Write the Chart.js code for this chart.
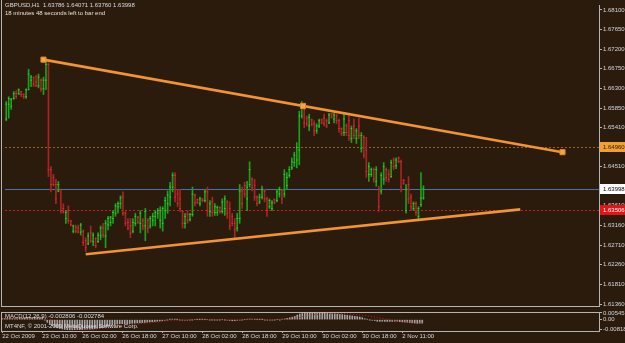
<!DOCTYPE html>
<html>
<head>
<meta charset="utf-8">
<script src="https://cdn.jsdelivr.net/npm/chart.js@4.4.0/dist/chart.umd.min.js"></script>
<style>
html, body { margin: 0; padding: 0; background: #2b1b0c; }
#wrap { position: relative; width: 625px; height: 343px; overflow: hidden; }
#priceChart { position: absolute; left: 0; top: 0; }
#macdChart { position: absolute; left: 0; top: 311px; }
.txt { position: absolute; font: 6px 'Liberation Sans', Arial, sans-serif; line-height: 7px; color: #d8dfe8; white-space: pre; }
</style>
<script>
// GBPUSD H1 bars (bar 0 = 22 Oct, last bar = 2 Nov)
const opens = [
  1.6560,1.6594,1.6589,1.6607,1.6618,1.6618,1.6623,1.6616,1.6611,1.6627,
  1.6649,1.6656,1.6645,1.6636,1.6649,1.6629,1.6649,1.6685,1.6444,1.6426,
  1.6410,1.6395,1.6399,1.6355,1.6332,1.6350,1.6326,1.6303,1.6312,1.6310,
  1.6301,1.6303,1.6281,1.6274,1.6299,1.6279,1.6286,1.6279,1.6292,1.6310,
  1.6292,1.6317,1.6323,1.6332,1.6344,1.6359,1.6366,1.6381,1.6344,1.6323,
  1.6315,1.6303,1.6321,1.6335,1.6321,1.6328,1.6315,1.6328,1.6315,1.6328,
  1.6337,1.6344,1.6328,1.6321,1.6350,1.6366,1.6381,1.6404,1.6431,1.6388,
  1.6377,1.6348,1.6321,1.6341,1.6330,1.6341,1.6386,1.6375,1.6366,1.6377,
  1.6373,1.6393,1.6348,1.6370,1.6346,1.6346,1.6357,1.6348,1.6355,1.6370,
  1.6355,1.6337,1.6321,1.6310,1.6332,1.6395,1.6408,1.6377,1.6410,1.6422,
  1.6408,1.6381,1.6370,1.6381,1.6395,1.6377,1.6359,1.6355,1.6375,1.6373,
  1.6388,1.6397,1.6388,1.6408,1.6431,1.6448,1.6460,1.6466,1.6489,1.6567,
  1.6582,1.6562,1.6544,1.6558,1.6549,1.6533,1.6544,1.6558,1.6562,1.6556,
  1.6551,1.6571,1.6560,1.6567,1.6556,1.6538,1.6529,1.6544,1.6556,1.6515,
  1.6544,1.6515,1.6544,1.6493,1.6518,1.6489,1.6433,1.6433,1.6444,1.6417,
  1.6399,1.6395,1.6422,1.6444,1.6433,1.6428,1.6466,1.6453,1.6471,1.6462,
  1.6419,1.6350,1.6410,1.6381,1.6355,1.6366,1.6337,1.6364,1.63786
];
const highs = [
  1.6600,1.6611,1.6607,1.6623,1.6625,1.6629,1.6623,1.6618,1.6629,1.6674,
  1.6660,1.6656,1.6660,1.6663,1.6652,1.6656,1.6694,1.6689,1.6451,1.6433,
  1.6422,1.6417,1.6399,1.6366,1.6350,1.6361,1.6328,1.6317,1.6317,1.6317,
  1.6321,1.6306,1.6288,1.6299,1.6315,1.6299,1.6288,1.6299,1.6315,1.6321,
  1.6328,1.6337,1.6337,1.6350,1.6366,1.6370,1.6384,1.6393,1.6348,1.6332,
  1.6332,1.6332,1.6344,1.6337,1.6350,1.6332,1.6355,1.6332,1.6337,1.6344,
  1.6350,1.6355,1.6359,1.6359,1.6381,1.6395,1.6415,1.6437,1.6437,1.6399,
  1.6399,1.6350,1.6344,1.6350,1.6344,1.6404,1.6388,1.6377,1.6381,1.6377,
  1.6399,1.6404,1.6373,1.6381,1.6366,1.6361,1.6359,1.6377,1.6384,1.6373,
  1.6370,1.6344,1.6332,1.6344,1.6410,1.6404,1.6415,1.6417,1.6462,1.6426,
  1.6422,1.6384,1.6388,1.6406,1.6399,1.6381,1.6377,1.6373,1.6377,1.6399,
  1.6404,1.6399,1.6444,1.6437,1.6451,1.6471,1.6484,1.6506,1.6578,1.6600,
  1.6585,1.6567,1.6571,1.6560,1.6556,1.6549,1.6560,1.6560,1.6571,1.6560,
  1.6573,1.6573,1.6573,1.6571,1.6560,1.6540,1.6571,1.6549,1.6567,1.6544,
  1.6560,1.6538,1.6562,1.6529,1.6522,1.6518,1.6460,1.6448,1.6448,1.6451,
  1.6406,1.6437,1.6460,1.6448,1.6444,1.6466,1.6471,1.6471,1.6473,1.6466,
  1.6422,1.6410,1.6428,1.6388,1.6370,1.6370,1.6359,1.6437,1.64071
];
const lows = [
  1.6556,1.6562,1.6582,1.6605,1.6607,1.6616,1.6611,1.6607,1.6607,1.6627,
  1.6634,1.6634,1.6634,1.6631,1.6623,1.6616,1.6627,1.6428,1.6393,1.6406,
  1.6366,1.6393,1.6344,1.6344,1.6321,1.6321,1.6315,1.6299,1.6299,1.6299,
  1.6294,1.6270,1.6256,1.6272,1.6277,1.6270,1.6265,1.6277,1.6283,1.6288,
  1.6265,1.6306,1.6315,1.6321,1.6337,1.6344,1.6355,1.6339,1.6315,1.6306,
  1.6288,1.6299,1.6315,1.6321,1.6299,1.6306,1.6281,1.6299,1.6310,1.6315,
  1.6315,1.6332,1.6310,1.6303,1.6332,1.6344,1.6361,1.6393,1.6370,1.6359,
  1.6348,1.6310,1.6310,1.6321,1.6326,1.6337,1.6361,1.6366,1.6361,1.6370,
  1.6370,1.6337,1.6337,1.6337,1.6339,1.6339,1.6344,1.6344,1.6339,1.6332,
  1.6306,1.6315,1.6288,1.6303,1.6321,1.6355,1.6381,1.6350,1.6404,1.6395,
  1.6373,1.6361,1.6366,1.6377,1.6370,1.6337,1.6355,1.6350,1.6366,1.6370,
  1.6381,1.6366,1.6381,1.6399,1.6426,1.6444,1.6451,1.6448,1.6455,1.6562,
  1.6540,1.6544,1.6533,1.6544,1.6522,1.6527,1.6540,1.6549,1.6544,1.6540,
  1.6549,1.6562,1.6551,1.6549,1.6529,1.6522,1.6522,1.6522,1.6511,1.6506,
  1.6515,1.6504,1.6515,1.6484,1.6471,1.6426,1.6417,1.6428,1.6415,1.6406,
  1.6348,1.6388,1.6410,1.6417,1.6415,1.6426,1.6444,1.6446,1.6460,1.6393,
  1.6410,1.6344,1.6366,1.6350,1.6350,1.6339,1.6328,1.6359,1.63760
];
const closes = [
  1.6594,1.6607,1.6605,1.6618,1.6611,1.6627,1.6616,1.6611,1.6627,1.6663,
  1.6656,1.6640,1.6636,1.6656,1.6629,1.6649,1.6685,1.6444,1.6410,1.6410,
  1.6377,1.6410,1.6350,1.6348,1.6346,1.6328,1.6317,1.6315,1.6303,1.6301,
  1.6317,1.6277,1.6265,1.6292,1.6281,1.6294,1.6270,1.6294,1.6310,1.6294,
  1.6321,1.6332,1.6335,1.6346,1.6361,1.6366,1.6379,1.6344,1.6321,1.6310,
  1.6299,1.6323,1.6337,1.6323,1.6344,1.6315,1.6348,1.6310,1.6332,1.6337,
  1.6346,1.6350,1.6350,1.6355,1.6373,1.6386,1.6404,1.6431,1.6381,1.6366,
  1.6355,1.6321,1.6337,1.6328,1.6341,1.6388,1.6368,1.6368,1.6377,1.6373,
  1.6393,1.6350,1.6366,1.6346,1.6359,1.6357,1.6348,1.6370,1.6377,1.6344,
  1.6315,1.6321,1.6306,1.6332,1.6395,1.6366,1.6388,1.6404,1.6444,1.6402,
  1.6381,1.6366,1.6381,1.6399,1.6377,1.6350,1.6373,1.6368,1.6368,1.6393,
  1.6399,1.6377,1.6433,1.6426,1.6444,1.6462,1.6477,1.6495,1.6567,1.6594,
  1.6551,1.6549,1.6564,1.6547,1.6533,1.6544,1.6556,1.6551,1.6549,1.6544,
  1.6569,1.6564,1.6569,1.6556,1.6538,1.6527,1.6560,1.6529,1.6522,1.6538,
  1.6522,1.6533,1.6522,1.6522,1.6477,1.6440,1.6451,1.6444,1.6422,1.6444,
  1.6359,1.6431,1.6451,1.6426,1.6422,1.6460,1.6451,1.6466,1.6462,1.6404,
  1.6413,1.6399,1.6377,1.6359,1.6366,1.6346,1.6355,1.6379,1.63998
];

// MACD(12,26,9) main line per bar and a few points of its signal line
const macdMain = [
  0.0008,0.0009,0.0009,0.0010,0.0010,0.0011,0.0011,0.0011,0.0012,0.0015,
  0.0017,0.0017,0.0016,0.0017,0.0016,0.0016,0.0019,-0.0002,-0.0022,-0.0037,
  -0.0050,-0.0058,-0.0066,-0.0072,-0.0076,-0.0079,-0.0081,-0.0082,-0.0082,-0.0081,
  -0.0080,-0.0081,-0.0081,-0.0080,-0.0078,-0.0077,-0.0076,-0.0074,-0.0071,-0.0068,
  -0.0064,-0.0060,-0.0056,-0.0051,-0.0046,-0.0041,-0.0036,-0.0034,-0.0033,-0.0033,
  -0.0033,-0.0032,-0.0030,-0.0029,-0.0027,-0.0026,-0.0024,-0.0023,-0.0021,-0.0019,
  -0.0017,-0.0015,-0.0013,-0.0011,-0.0008,-0.0005,-0.0002,0.0002,0.0003,0.0002,
  0.0001,-0.0002,-0.0003,-0.0004,-0.0004,-0.0002,-0.0001,0.0000,0.0001,0.0001,
  0.0002,0.0001,0.0000,-0.0001,-0.0001,-0.0002,-0.0002,-0.0001,0.0000,-0.0001,
  -0.0004,-0.0006,-0.0009,-0.0009,-0.0005,-0.0004,-0.0002,0.0000,0.0004,0.0005,
  0.0004,0.0002,0.0001,0.0002,0.0001,-0.0002,-0.0003,-0.0003,-0.0003,-0.0002,
  0.0000,-0.0001,0.0003,0.0006,0.0010,0.0015,0.0020,0.0026,0.0037,0.0046,
  0.0050,0.0052,0.0054,0.0054,0.0054,0.0054,0.0054,0.0053,0.0052,0.0051,
  0.0051,0.0050,0.0049,0.0047,0.0045,0.0042,0.0041,0.0038,0.0035,0.0032,
  0.0030,0.0027,0.0025,0.0021,0.0016,0.0008,0.0003,-0.0001,-0.0005,-0.0007,
  -0.0013,-0.0014,-0.0013,-0.0014,-0.0015,-0.0014,-0.0014,-0.0013,-0.0013,-0.0016,
  -0.0018,-0.0020,-0.0021,-0.0024,-0.0026,-0.0028,-0.0030,-0.0029,-0.002806
];
const signalBars = [0, 16, 18, 22, 26, 30, 36, 44, 52, 60, 68, 76, 84, 92, 100, 108, 114, 118, 122, 128, 136, 144, 150, 156, 162, 168];
const signalValues = [0.0007, 0.0014, 0.0012, -0.0020, -0.0060, -0.0077, -0.0080, -0.0065, -0.0038, -0.0024, -0.0005, -0.0001, 0.0000, -0.0003, 0.0001, -0.0001, 0.0002, 0.0014, 0.0033, 0.0049, 0.0050, 0.0036, 0.0017, -0.0004, -0.0015, -0.002784];

// trend lines: [bar index, price] anchors; the first one is selected (3 handles)
const upperTrend = [[15, 1.6696], [224, 1.6484]];
const upperHandles = [[15, 1.6696], [119.5, 1.6590], [224, 1.6484]];
const lowerTrend = [[32, 1.6250], [207, 1.6353]];

// horizontal levels: orange line, bid line, red line
const levelPrices = [1.64960, 1.63998, 1.63506];

// axis labels
const priceTicks = [1.68100, 1.67650, 1.67200, 1.66750, 1.66300, 1.65850, 1.65410, 1.64960, 1.64510, 1.64060, 1.63610, 1.63160, 1.62710, 1.62260, 1.61810, 1.61360];
const timeTickBars = [0, 16, 32, 48, 64, 80, 96, 112, 128, 144, 160];
const timeLabels = ['22 Oct 2009', '23 Oct 10:00', '26 Oct 02:00', '26 Oct 18:00', '27 Oct 10:00', '28 Oct 02:00', '28 Oct 18:00', '29 Oct 10:00', '30 Oct 02:00', '30 Oct 18:00', '2 Nov 11:00'];
const macdTicks = [0.005459, 0, -0.008185];
</script>
</head>
<body>
<div id="wrap">
  <canvas id="priceChart" width="625" height="311"></canvas>
  <canvas id="macdChart" width="625" height="32"></canvas>
  <div class="txt" style="left:5px;top:2px">GBPUSD,H1  1.63786 1.64071 1.63760 1.63998</div>
  <div class="txt" style="left:5px;top:10px;color:#e6e4d2">18 minutes 48 seconds left to bar end</div>
  <div class="txt" style="left:5px;top:313px">MACD(12,26,9) -0.002806 -0.002784</div>
  <div class="txt" style="left:5px;top:323px">MT4NF, © 2001-2009 MetaQuotes Software Corp.</div>
</div>
<script>
document.addEventListener("DOMContentLoaded", function() {
    Chart.defaults.font.family = "'Liberation Sans', Arial, sans-serif";
    Chart.defaults.font.size = 6;
    Chart.defaults.color = '#d4d9e0';

    const UP = '#18a318', DOWN = '#a82424';
    const UP_TICK = '#46c446', DOWN_TICK = '#c83838';
    const FRAME = '#b4b4b4';
    const TREND = '#f29431';
    const X_MIN = -0.5, X_MAX = 238.7;
    const isUp = i => closes[i] >= opens[i];

    const levelStyle = [
        { line: '#9c5c22', dash: [2, 2], box: '#f0a032', text: '#2b1b0c' },
        { line: '#4a72aa', dash: [], box: '#ffffff', text: '#000000' },
        { line: '#c81e1e', dash: [2, 2], box: '#e41414', text: '#ffffff' }
    ];

    const fixedRightAxis = function(scale) {
        scale.width = 26;
        scale.paddingTop = 0;
        scale.paddingBottom = 0;
    };

    const priceDecor = {
        id: 'priceDecor',
        beforeDatasetsDraw(chart) {
            const { ctx, chartArea: a, scales: { y } } = chart;
            ctx.save();
            levelPrices.forEach((v, k) => {
                const py = Math.round(y.getPixelForValue(v)) + 0.5;
                ctx.strokeStyle = levelStyle[k].line;
                ctx.setLineDash(levelStyle[k].dash);
                ctx.lineWidth = 1;
                ctx.beginPath();
                ctx.moveTo(a.left, py);
                ctx.lineTo(a.right, py);
                ctx.stroke();
            });
            ctx.restore();
        },
        afterDraw(chart) {
            const { ctx, chartArea: a, scales: { y } } = chart;
            ctx.save();
            ctx.fillStyle = FRAME;
            ctx.fillRect(1, 0, 1, a.bottom);
            ctx.fillRect(1, Math.round(a.bottom), a.right - 1, 1);
            ctx.font = "6px 'Liberation Sans', Arial, sans-serif";
            ctx.textBaseline = 'middle';
            levelPrices.forEach((v, k) => {
                const py = Math.round(y.getPixelForValue(v));
                ctx.fillStyle = levelStyle[k].box;
                ctx.fillRect(a.right + 1, py - 5, 30, 10);
                ctx.fillStyle = levelStyle[k].text;
                ctx.fillText(v.toFixed(5), a.right + 4, py + 0.5);
            });
            ctx.restore();
        }
    };

    const macdFrame = {
        id: 'macdFrame',
        afterDraw(chart) {
            const { ctx, chartArea: a } = chart;
            ctx.save();
            ctx.fillStyle = FRAME;
            ctx.fillRect(1, a.top, 1, a.bottom - a.top);
            ctx.fillRect(1, Math.round(a.top), a.right - 1, 1);
            ctx.restore();
        }
    };

    const toPts = arr => arr.map(p => ({ x: p[0], y: p[1] }));

    new Chart(document.getElementById('priceChart'), {
        type: 'bar',
        data: {
            datasets: [{
                type: 'line',
                data: toPts(upperHandles),
                showLine: false,
                pointStyle: 'rect',
                pointRadius: 3.6,
                pointBackgroundColor: '#f6a640',
                pointBorderColor: '#e88a20',
                pointBorderWidth: 1
            }, {
                type: 'line',
                data: toPts(upperTrend),
                borderColor: TREND,
                borderWidth: 2.6,
                pointRadius: 0
            }, {
                type: 'line',
                data: toPts(lowerTrend),
                borderColor: TREND,
                borderWidth: 2.6,
                pointRadius: 0
            }, {
                type: 'line',
                data: closes.map((c, i) => ({ x: i, y: c })),
                showLine: false,
                pointStyle: 'line',
                pointRadius: 0.8,
                pointBorderWidth: 1,
                pointBorderColor: ctx => isUp(ctx.dataIndex) ? UP_TICK : DOWN_TICK
            }, {
                type: 'line',
                data: opens.map((o, i) => ({ x: i, y: o })),
                showLine: false,
                pointStyle: 'line',
                pointRadius: 0.8,
                pointBorderWidth: 1,
                pointBorderColor: ctx => isUp(ctx.dataIndex) ? UP_TICK : DOWN_TICK
            }, {
                data: highs.map((h, i) => ({ x: i, y: [lows[i], h] })),
                barThickness: 1,
                backgroundColor: ctx => isUp(ctx.dataIndex) ? UP : DOWN
            }]
        },
        options: {
            responsive: false,
            animation: false,
            layout: { padding: { left: 1, top: 1, right: 0, bottom: 1 } },
            scales: {
                x: { type: 'linear', min: X_MIN, max: X_MAX, offset: false, grid: { offset: false }, display: false },
                y: {
                    type: 'linear',
                    position: 'right',
                    min: 1.61315,
                    max: 1.68212,
                    afterBuildTicks: scale => { scale.ticks = priceTicks.map(v => ({ value: v })); },
                    afterFit: fixedRightAxis,
                    ticks: { autoSkip: false, padding: 1, callback: v => v.toFixed(5) },
                    grid: { drawOnChartArea: false, tickLength: 3, color: FRAME },
                    border: { color: FRAME }
                }
            },
            plugins: { legend: { display: false }, tooltip: { enabled: false } }
        },
        plugins: [priceDecor]
    });

    new Chart(document.getElementById('macdChart'), {
        type: 'bar',
        data: {
            datasets: [{
                type: 'line',
                data: signalBars.map((b, k) => ({ x: b, y: signalValues[k] })),
                borderColor: '#d41c1c',
                borderWidth: 1,
                borderDash: [1, 2],
                pointRadius: 0
            }, {
                data: macdMain.map((v, i) => ({ x: i, y: v })),
                barThickness: 1,
                backgroundColor: '#a4a4a4'
            }]
        },
        options: {
            responsive: false,
            animation: false,
            layout: { padding: { left: 1, top: 1, right: 0, bottom: 0 } },
            scales: {
                x: {
                    type: 'linear',
                    min: X_MIN,
                    max: X_MAX,
                    offset: false,
                    afterBuildTicks: scale => { scale.ticks = timeTickBars.map(v => ({ value: v })); },
                    afterFit: scale => { scale.height = 12; scale.paddingLeft = 0; scale.paddingRight = 0; },
                    ticks: {
                        autoSkip: false,
                        maxRotation: 0,
                        align: 'start',
                        padding: 0,
                        callback: (v, i) => timeLabels[i]
                    },
                    grid: { drawOnChartArea: false, offset: false, tickLength: 2, color: FRAME },
                    border: { color: FRAME }
                },
                y: {
                    type: 'linear',
                    position: 'right',
                    min: -0.0092,
                    max: 0.0062,
                    afterBuildTicks: scale => { scale.ticks = macdTicks.map(v => ({ value: v })); },
                    afterFit: fixedRightAxis,
                    ticks: { autoSkip: false, padding: 1, callback: v => v === 0 ? '0.00' : v.toFixed(6) },
                    grid: { drawOnChartArea: false, tickLength: 3, color: FRAME },
                    border: { color: FRAME }
                }
            },
            plugins: { legend: { display: false }, tooltip: { enabled: false } }
        },
        plugins: [macdFrame]
    });
});
</script>
</body>
</html>
